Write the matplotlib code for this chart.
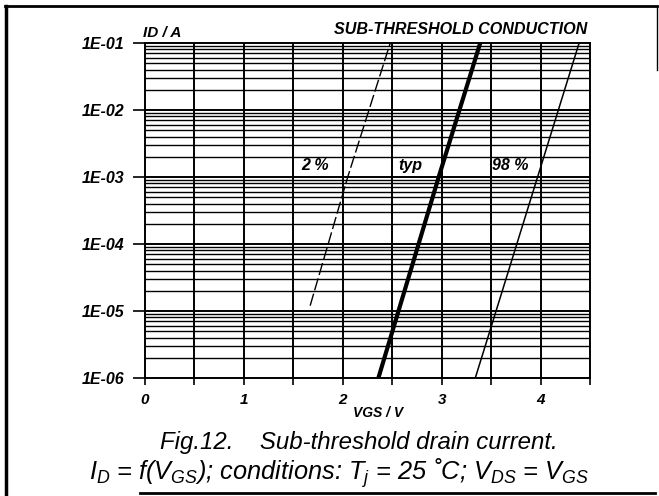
import matplotlib
matplotlib.use("Agg")
import matplotlib.pyplot as plt
from matplotlib.lines import Line2D
import numpy as np

plt.rcParams['font.family'] = ['Liberation Sans', 'DejaVu Sans']
plt.rcParams['mathtext.fontset'] = 'custom'
plt.rcParams['mathtext.rm'] = 'Liberation Sans:italic'
plt.rcParams['mathtext.it'] = 'Liberation Sans:italic'
plt.rcParams['mathtext.default'] = 'it'

# Data
vgs_2pct = [1.67, 2.05, 2.48]
id_2pct = [1.2e-5, 1e-3, 1e-1]
vgs_typ = [2.36, 2.97, 3.39]
id_typ = [1e-6, 1e-3, 1e-1]
vgs_98pct = [3.34, 3.97, 4.39]
id_98pct = [1e-6, 1e-3, 1e-1]

ytick_vals = [1e-6, 1e-5, 1e-4, 1e-3, 1e-2, 1e-1]
ytick_labels = ['1E-06', '1E-05', '1E-04', '1E-03', '1E-02', '1E-01']
xtick_vals = [0, 1, 2, 3, 4]
xtick_labels = ['0', '1', '2', '3', '4']

W, H = 659, 496
fig = plt.figure(figsize=(W / 100, H / 100), dpi=100)
ax = fig.add_axes([145 / W, 1 - 378 / H, (590 - 145) / W, (378 - 43) / H])
ax.set_yscale('log')
ax.set_xlim(0, 4.5)
ax.set_ylim(1e-6, 1e-1)

# grid lines
for xv in np.arange(0.5, 4.5, 0.5):
    ax.axvline(xv, color='black', lw=1.4, zorder=1)
for dec in range(-6, -1):
    for m in range(1, 10):
        v = m * 10.0 ** dec
        if v <= 1e-6 or v >= 1e-1:
            continue
        ax.axhline(v, color='black', lw=1.0 if m > 1 else 1.4, zorder=1)

ax.plot(vgs_2pct, id_2pct, color='black', lw=1.0, dashes=(9, 2.5), zorder=3)
ax.plot(vgs_typ, id_typ, color='black', lw=3.0, zorder=3)
ax.plot(vgs_98pct, id_98pct, color='black', lw=1.1, zorder=3)

for s in ax.spines.values():
    s.set_linewidth(1.4)

tickfont = dict(fontsize=11.5, fontweight='bold', fontstyle='italic')
ax.set_yticks(ytick_vals)
ax.set_yticklabels(ytick_labels, **tickfont)
ax.yaxis.set_minor_locator(matplotlib.ticker.NullLocator())
ax.tick_params(axis='y', which='major', length=9, width=1.2, pad=6)
ax.set_xticks(np.arange(0, 4.51, 0.5), minor=True)
ax.set_xticks(xtick_vals)
ax.set_xticklabels(xtick_labels, fontsize=11, fontweight='bold', fontstyle='italic')
ax.tick_params(axis='x', which='both', length=5, width=1.2, pad=6)

lab = dict(fontsize=11.5, fontweight='bold', fontstyle='italic', va='center')
ax.text(1.72, 1.5e-3, '2 %', ha='center', **lab)
ax.text(2.68, 1.5e-3, 'typ', ha='center', **lab)
ax.text(3.51, 1.5e-3, '98 %', ha='left', **lab)

fig.text(587 / W, 1 - 29 / H, 'SUB-THRESHOLD CONDUCTION', ha='right', va='center',
         fontsize=11.6, fontweight='bold', fontstyle='italic')
fig.text(143 / W, 1 - 33 / H, 'ID / A', ha='left', va='center',
         fontsize=11, fontweight='bold', fontstyle='italic')
fig.text(378 / W, 1 - 413 / H, 'VGS / V', ha='center', va='center',
         fontsize=10, fontweight='bold', fontstyle='italic')

fig.text(359 / W, 1 - 442 / H, 'Fig.12.    Sub-threshold drain current.', ha='center', va='center',
         fontsize=17.3, fontstyle='italic')
fig.text(339 / W, 1 - 473 / H,
         r'$I_D$ = f($V_{GS}$); conditions: $T_j$ = 25 ˚C; $V_{DS}$ = $V_{GS}$',
         ha='center', va='center', fontsize=18.3, fontstyle='italic')

# figure border
fig.add_artist(Line2D([5 / W, 657 / W], [1 - 6 / H, 1 - 6 / H], color='black', lw=2))
fig.add_artist(Line2D([6 / W, 6 / W], [1 - 6 / H, 0], color='black', lw=2.5))
fig.add_artist(Line2D([140 / W, 655 / W], [1 - 493 / H, 1 - 493 / H], color='black', lw=2))
fig.add_artist(Line2D([657 / W, 657 / W], [1 - 6 / H, 1 - 70 / H], color='black', lw=1))

fig.savefig('out.png', dpi=100)
